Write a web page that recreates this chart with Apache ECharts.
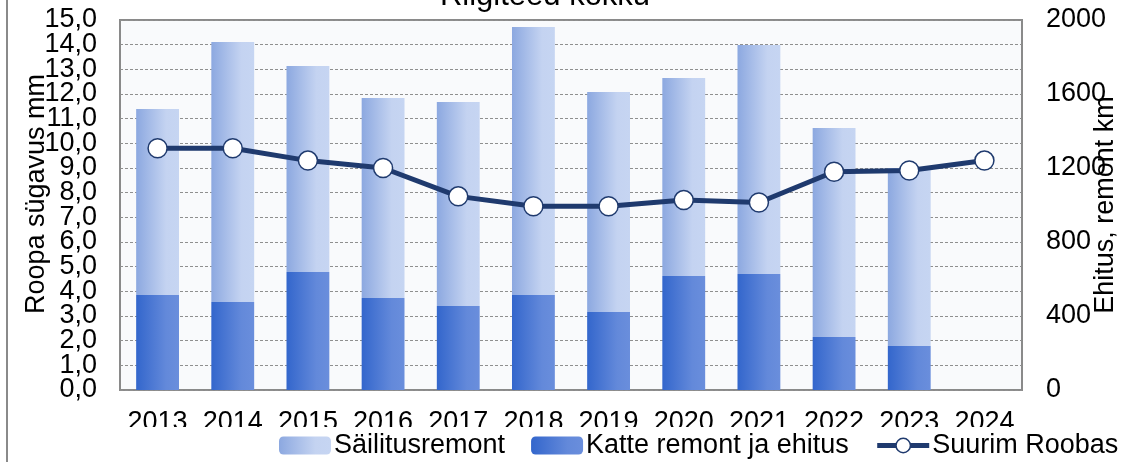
<!DOCTYPE html>
<html>
<head>
<meta charset="utf-8">
<script src="https://cdn.jsdelivr.net/npm/echarts@6/dist/echarts.min.js"></script>
<style>
html,body{margin:0;padding:0;background:#fff;}
#chart{width:1127px;height:462px;}
</style>
</head>
<body>
<div id="chart"></div>
<script>
const categories = ['2013','2014','2015','2016','2017','2018','2019','2020','2021','2022','2023','2024'];
const katteRemont = [514, 476, 638, 497, 454, 514, 422, 616, 627, 286, 238, null];
const sailitusremont = [1005, 1405, 1113, 1081, 1103, 1448, 1189, 1070, 1238, 1130, 962, null];
const suurimRoobas = [9.8, 9.8, 9.3, 9.0, 7.85, 7.45, 7.45, 7.7, 7.6, 8.85, 8.9, 9.3];
const seriesNames = ['Säilitusremont', 'Katte remont ja ehitus', 'Suurim Roobas'];
const titleText = 'Riigiteed kokku';
const leftAxisName = 'Roopa sügavus mm';
const rightAxisName = 'Ehitus, remont km';

const FONT = '"Liberation Sans", Arial, sans-serif';
const FS = 27;
const NAVY = '#1F3A6E';
const fmtMm = v => v.toFixed(1).replace('.', ',');

const chart = echarts.init(document.getElementById('chart'), null, {renderer: 'canvas'});

const lightGrad = new echarts.graphic.LinearGradient(0, 0, 1, 0, [
  {offset: 0, color: '#8CA8E0'}, {offset: 0.7, color: '#C4D3F1'}, {offset: 1, color: '#C6D5F2'}
]);
const darkGrad = new echarts.graphic.LinearGradient(0, 0, 1, 0, [
  {offset: 0, color: '#3366CC'}, {offset: 0.7, color: '#6389DA'}, {offset: 1, color: '#6A8EDC'}
]);

chart.setOption({
  animation: false,
  backgroundColor: '#ffffff',
  textStyle: {fontFamily: FONT},
  title: {
    text: titleText,
    left: 540,
    textAlign: 'center',
    top: -24,
    textStyle: {fontFamily: FONT, fontSize: 31, fontWeight: 'normal', color: '#000'}
  },
  graphic: [
    {type: 'rect', shape: {x: 9, y: 427, width: 1118, height: 35}, style: {fill: '#fff'}, z: 50, silent: true},
    {type: 'line', shape: {x1: 7, y1: 0, x2: 7, y2: 462}, style: {stroke: '#8a8a8a', lineWidth: 2}, z: 51, silent: true}
  ],
  legend: {
    data: [
      {name: seriesNames[0]},
      {name: seriesNames[1]},
      {name: seriesNames[2], lineStyle: {width: 5}, itemStyle: {borderWidth: 1.5}}
    ],
    left: 279,
    top: 432,
    itemWidth: 52,
    itemHeight: 18,
    itemGap: 26,
    padding: 0,
    z: 60,
    textStyle: {fontFamily: FONT, fontSize: FS, color: '#000', padding: [0, 0, 0, -2]}
  },
  grid: {
    left: 120, right: 105, top: 20, bottom: 72,
    outerBoundsMode: 'none',
    containLabel: false,
    show: true,
    backgroundColor: '#F9FAFC',
    borderColor: '#8a8a8a',
    borderWidth: 2
  },
  xAxis: {
    type: 'category',
    data: categories,
    boundaryGap: true,
    axisLine: {show: false},
    axisTick: {show: false},
    axisLabel: {fontFamily: FONT, fontSize: FS, color: '#000', margin: 19, interval: 0}
  },
  yAxis: [
    {
      type: 'value', min: 0, max: 15, interval: 1, position: 'left',
      name: leftAxisName, nameLocation: 'middle', nameGap: 70, nameRotate: 90,
      nameMoveOverlap: false,
      nameTextStyle: {fontFamily: FONT, fontSize: FS, color: '#000', padding: [0, 0, 0, 22]},
      axisLine: {show: false}, axisTick: {show: false},
      axisLabel: {fontFamily: FONT, fontSize: FS, color: '#000', margin: 23, interval: 0,
        showMinLabel: false, showMaxLabel: false, hideOverlap: false,
        formatter: fmtMm},
      splitLine: {show: true, lineStyle: {color: '#8f8f8f', width: 1.2, type: [3, 2]}}
    },
    {
      type: 'value', min: 0, max: 2000, interval: 400, position: 'right',
      name: rightAxisName, nameLocation: 'middle', nameGap: 70, nameRotate: 90,
      nameMoveOverlap: false,
      nameTextStyle: {fontFamily: FONT, fontSize: FS, color: '#000'},
      axisLine: {show: false}, axisTick: {show: false},
      axisLabel: {fontFamily: FONT, fontSize: FS, color: '#000', margin: 24, interval: 0,
        showMinLabel: true, showMaxLabel: true, formatter: v => String(v)},
      splitLine: {show: false}
    },
    {
      type: 'value', min: 0, max: 15, interval: 15, position: 'left', offset: 0,
      axisLine: {show: false}, axisTick: {show: false},
      axisLabel: {fontFamily: FONT, fontSize: FS, color: '#000', margin: 23,
        showMinLabel: true, showMaxLabel: true, formatter: fmtMm},
      splitLine: {show: false}
    }
  ],
  series: [
    {
      name: seriesNames[1], type: 'bar', stack: 'km', yAxisIndex: 1,
      data: katteRemont, barWidth: '57%',
      itemStyle: {color: darkGrad}
    },
    {
      name: seriesNames[0], type: 'bar', stack: 'km', yAxisIndex: 1,
      data: sailitusremont, barWidth: '57%',
      itemStyle: {color: lightGrad}
    },
    {
      name: seriesNames[2], type: 'line', yAxisIndex: 0,
      data: suurimRoobas, z: 10,
      symbol: 'circle', symbolSize: 19,
      lineStyle: {color: NAVY, width: 5},
      itemStyle: {color: '#ffffff', borderColor: NAVY, borderWidth: 1.5}
    }
  ]
});
</script>
</body>
</html>
